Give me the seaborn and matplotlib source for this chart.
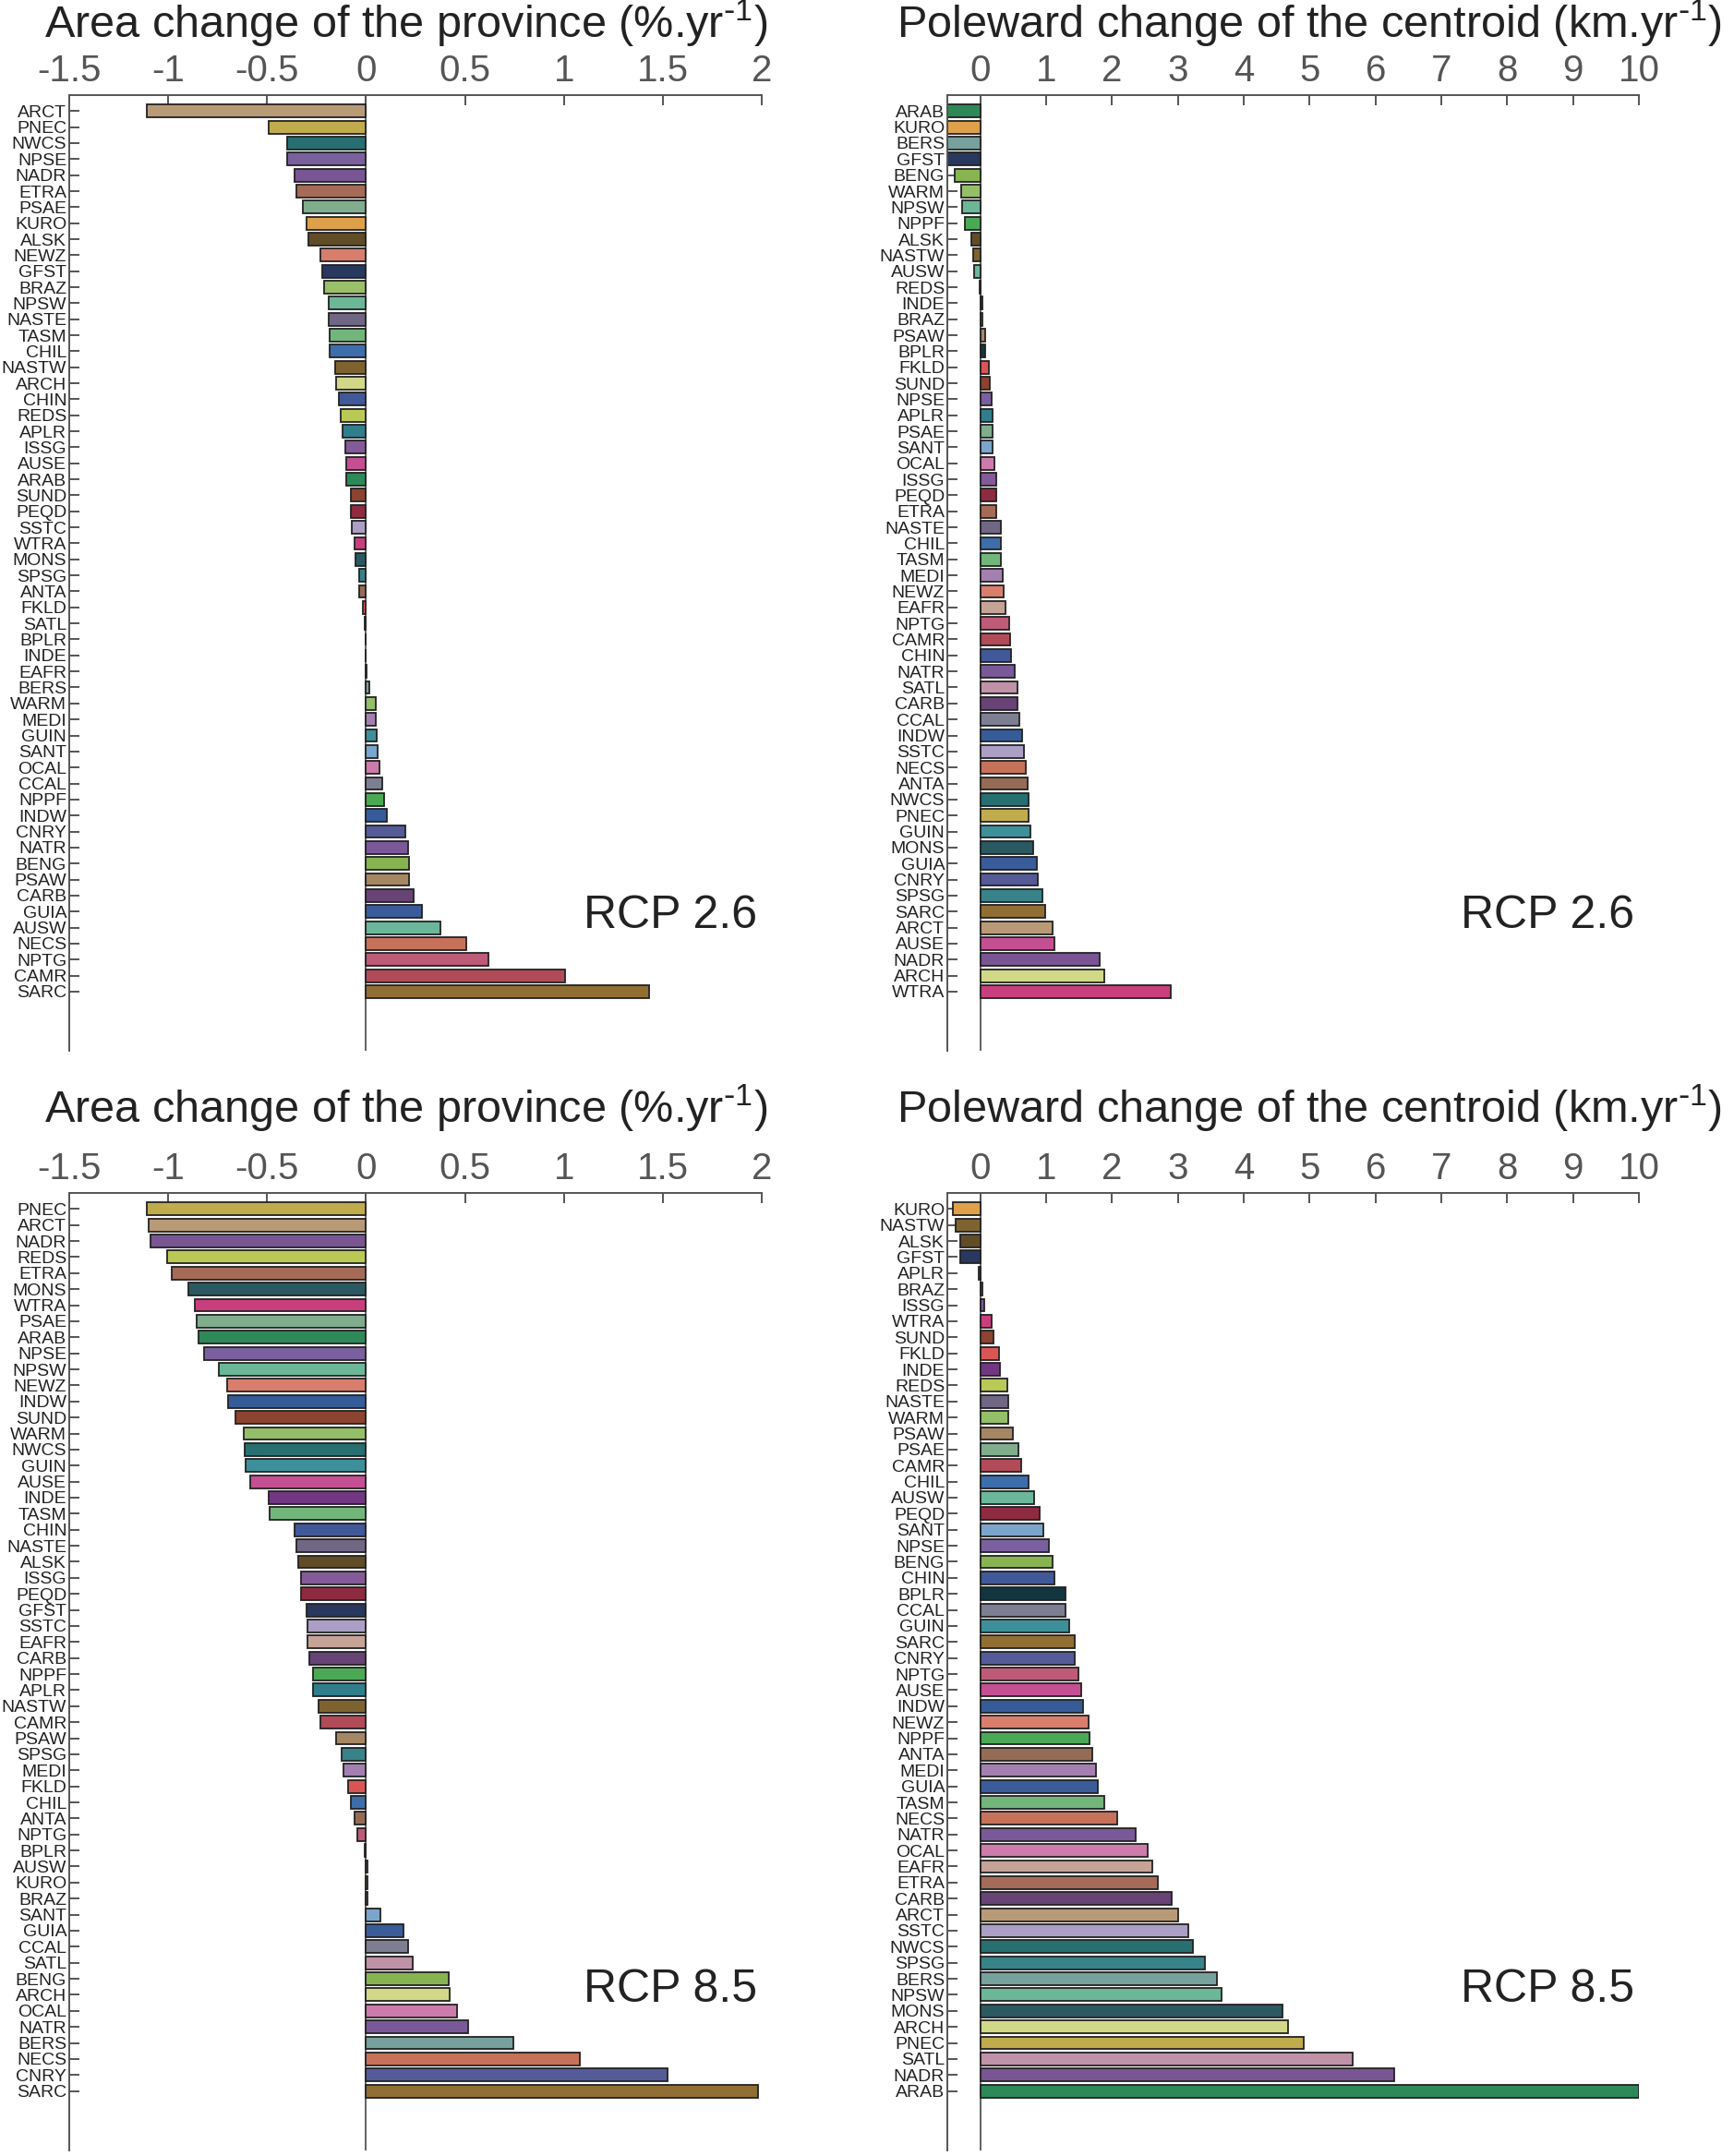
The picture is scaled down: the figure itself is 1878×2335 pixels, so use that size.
import numpy as np
import pandas as pd
import matplotlib
matplotlib.use("Agg")
import matplotlib.pyplot as plt
import seaborn as sns

# ============ DATA ============

# Area change of the province (%.yr-1), RCP 2.6
area26_prov = ["ARCT", "PNEC", "NWCS", "NPSE", "NADR", "ETRA", "PSAE", "KURO", "ALSK", "NEWZ",
               "GFST", "BRAZ", "NPSW", "NASTE", "TASM", "CHIL", "NASTW", "ARCH", "CHIN", "REDS",
               "APLR", "ISSG", "AUSE", "ARAB", "SUND", "PEQD", "SSTC", "WTRA", "MONS", "SPSG",
               "ANTA", "FKLD", "SATL", "BPLR", "INDE", "EAFR", "BERS", "WARM", "MEDI", "GUIN",
               "SANT", "OCAL", "CCAL", "NPPF", "INDW", "CNRY", "NATR", "BENG", "PSAW", "CARB",
               "GUIA", "AUSW", "NECS", "NPTG", "CAMR", "SARC"]
area26_val = [-1.11, -0.49, -0.40, -0.40, -0.36, -0.35, -0.32, -0.30, -0.29, -0.23,
              -0.22, -0.21, -0.19, -0.19, -0.185, -0.185, -0.155, -0.15, -0.137, -0.127,
              -0.119, -0.104, -0.101, -0.101, -0.076, -0.076, -0.073, -0.058, -0.053, -0.035,
              -0.033, -0.018, -0.008, -0.003, -0.001, 0.002, 0.015, 0.048, 0.051, 0.056,
              0.061, 0.066, 0.084, 0.091, 0.104, 0.197, 0.213, 0.218, 0.218, 0.243,
              0.281, 0.377, 0.509, 0.618, 1.005, 1.43]

# Poleward change of the centroid (km.yr-1), RCP 2.6
pole26_prov = ["ARAB", "KURO", "BERS", "GFST", "BENG", "WARM", "NPSW", "NPPF", "ALSK", "NASTW",
               "AUSW", "REDS", "INDE", "BRAZ", "PSAW", "BPLR", "FKLD", "SUND", "NPSE", "APLR",
               "PSAE", "SANT", "OCAL", "ISSG", "PEQD", "ETRA", "NASTE", "CHIL", "TASM", "MEDI",
               "NEWZ", "EAFR", "NPTG", "CAMR", "CHIN", "NATR", "SATL", "CARB", "CCAL", "INDW",
               "SSTC", "NECS", "ANTA", "NWCS", "PNEC", "GUIN", "MONS", "GUIA", "CNRY", "SPSG",
               "SARC", "ARCT", "AUSE", "NADR", "ARCH", "WTRA"]
pole26_val = [-0.5, -0.5, -0.5, -0.5, -0.39, -0.29, -0.27, -0.23, -0.14, -0.10,
              -0.09, -0.01, 0.03, 0.04, 0.08, 0.08, 0.13, 0.14, 0.17, 0.19,
              0.19, 0.19, 0.21, 0.24, 0.25, 0.25, 0.32, 0.32, 0.32, 0.34,
              0.36, 0.38, 0.44, 0.45, 0.47, 0.53, 0.56, 0.57, 0.60, 0.64,
              0.66, 0.69, 0.72, 0.74, 0.74, 0.76, 0.81, 0.86, 0.88, 0.95,
              0.98, 1.10, 1.12, 1.82, 1.88, 2.89]

# Area change of the province (%.yr-1), RCP 8.5
area85_prov = ["PNEC", "ARCT", "NADR", "REDS", "ETRA", "MONS", "WTRA", "PSAE", "ARAB", "NPSE",
               "NPSW", "NEWZ", "INDW", "SUND", "WARM", "NWCS", "GUIN", "AUSE", "INDE", "TASM",
               "CHIN", "NASTE", "ALSK", "ISSG", "PEQD", "GFST", "SSTC", "EAFR", "CARB", "NPPF",
               "APLR", "NASTW", "CAMR", "PSAW", "SPSG", "MEDI", "FKLD", "CHIL", "ANTA", "NPTG",
               "BPLR", "AUSW", "KURO", "BRAZ", "SANT", "GUIA", "CCAL", "SATL", "BENG", "ARCH",
               "OCAL", "NATR", "BERS", "NECS", "CNRY", "SARC"]
area85_val = [-1.106, -1.099, -1.091, -1.005, -0.98, -0.899, -0.866, -0.858, -0.848, -0.82,
              -0.742, -0.704, -0.699, -0.658, -0.618, -0.615, -0.61, -0.585, -0.491, -0.486,
              -0.362, -0.354, -0.344, -0.329, -0.327, -0.299, -0.296, -0.294, -0.286, -0.266,
              -0.266, -0.241, -0.23, -0.152, -0.122, -0.114, -0.091, -0.078, -0.058, -0.046,
              -0.005, 0.008, 0.008, 0.008, 0.073, 0.19, 0.215, 0.238, 0.418, 0.425,
              0.458, 0.516, 0.747, 1.081, 1.524, 1.982]

# Poleward change of the centroid (km.yr-1), RCP 8.5
pole85_prov = ["KURO", "NASTW", "ALSK", "GFST", "APLR", "BRAZ", "ISSG", "WTRA", "SUND", "FKLD",
               "INDE", "REDS", "NASTE", "WARM", "PSAW", "PSAE", "CAMR", "CHIL", "AUSW", "PEQD",
               "SANT", "NPSE", "BENG", "CHIN", "BPLR", "CCAL", "GUIN", "SARC", "CNRY", "NPTG",
               "AUSE", "INDW", "NEWZ", "NPPF", "ANTA", "MEDI", "GUIA", "TASM", "NECS", "NATR",
               "OCAL", "EAFR", "ETRA", "CARB", "ARCT", "SSTC", "NWCS", "SPSG", "BERS", "NPSW",
               "MONS", "ARCH", "PNEC", "SATL", "NADR", "ARAB"]
pole85_val = [-0.42, -0.38, -0.31, -0.31, -0.02, 0.03, 0.06, 0.17, 0.20, 0.28,
              0.30, 0.41, 0.42, 0.43, 0.50, 0.58, 0.62, 0.74, 0.82, 0.90,
              0.96, 1.04, 1.10, 1.13, 1.29, 1.30, 1.35, 1.43, 1.43, 1.49,
              1.54, 1.56, 1.65, 1.66, 1.70, 1.76, 1.78, 1.89, 2.08, 2.36,
              2.54, 2.61, 2.69, 2.90, 3.01, 3.16, 3.23, 3.41, 3.59, 3.66,
              4.59, 4.67, 4.91, 5.65, 6.29, 10.0]

# One colour per province
province_colors = {
    "ARCT": "#C49A6C", "PNEC": "#D4B83A", "NWCS": "#1B7B7C", "NPSE": "#7856A8",
    "NADR": "#7B4A9E", "ETRA": "#B3644A", "PSAE": "#78B48A", "KURO": "#F7A630",
    "ALSK": "#6B4E1E", "NEWZ": "#EB725B", "GFST": "#1F3567", "BRAZ": "#9BCF5A",
    "NPSW": "#5EC49B", "NASTE": "#6E628A", "TASM": "#66C272", "CHIL": "#2A6CBE",
    "NASTW": "#8B6724", "ARCH": "#DCE67A", "CHIN": "#3353A6", "REDS": "#C8DC42",
    "APLR": "#21899A", "ISSG": "#8850A2", "AUSE": "#D83C96", "ARAB": "#1F9858",
    "SUND": "#9B3A20", "PEQD": "#A01A36", "SSTC": "#A898CC", "WTRA": "#E0287C",
    "MONS": "#22606A", "SPSG": "#2A8E96", "ANTA": "#A0674A", "FKLD": "#F04040",
    "SATL": "#C88AA6", "BPLR": "#0A3A48", "INDE": "#7A2A8E", "EAFR": "#CCA090",
    "BERS": "#6FA8A2", "WARM": "#94CC5A", "MEDI": "#A878B8", "GUIN": "#2E9CA8",
    "SANT": "#6FA6D8", "OCAL": "#DA6EAE", "CCAL": "#7A7A96", "NPPF": "#3CB84A",
    "INDW": "#2558A8", "CNRY": "#4A52A4", "NATR": "#7A4EA2", "BENG": "#88C440",
    "PSAW": "#B08858", "CARB": "#6A3A7E", "GUIA": "#2A58AA", "AUSW": "#5EC4A0",
    "NECS": "#D86848", "NPTG": "#CE4A72", "CAMR": "#C23A4A", "SARC": "#A07224",
}

area_title = r"Area change of the province (%.yr$^{\text{-}1}$)"
pole_title = r"Poleward change of the centroid (km.yr$^{\text{-}1}$)"
area_ticks = [-1.5, -1, -0.5, 0, 0.5, 1, 1.5, 2]
pole_ticks = [0, 1, 2, 3, 4, 5, 6, 7, 8, 9, 10]

# ============ STYLE ============

sns.set_theme(style="white")
plt.rcParams["font.family"] = ["Liberation Sans Narrow", "Liberation Sans", "DejaVu Sans"]
plt.rcParams["mathtext.default"] = "regular"
plt.rcParams["axes.unicode_minus"] = False

fig = plt.figure(figsize=(18.78, 23.35), dpi=100)

# rect = [left, bottom, width, height] in figure fractions; title x, title pad, rcp label y
panels = [
    (area26_prov, area26_val, area_title, area_ticks, (-1.5, 2), "RCP 2.6",
     [0.0399, 0.5126, 0.3994, 0.4433], 0.486, 12, 0.141),
    (pole26_prov, pole26_val, pole_title, pole_ticks, (-0.5, 10), "RCP 2.6",
     [0.5463, 0.5126, 0.3989, 0.4433], 0.524, 12, 0.141),
    (area85_prov, area85_val, area_title, area_ticks, (-1.5, 2), "RCP 8.5",
     [0.0399, 0.0026, 0.3994, 0.4441], 0.486, 22, 0.168),
    (pole85_prov, pole85_val, pole_title, pole_ticks, (-0.5, 10), "RCP 8.5",
     [0.5463, 0.0026, 0.3989, 0.4441], 0.524, 22, 0.168),
]

for prov, vals, title, ticks, xlim, rcp, rect, title_x, title_pad, rcp_y in panels:
    ax = fig.add_axes(rect)
    df = pd.DataFrame({"province": prov, "value": vals})
    sns.barplot(data=df, x="value", y="province", hue="province",
                palette=province_colors, legend=False, width=0.8,
                edgecolor="#222222", linewidth=1.3, ax=ax)
    ax.axvline(0, color="#555555", lw=1.3, zorder=0.5)
    ax.set_xlim(*xlim)
    ax.set_ylim(58.7, -1.0)
    ax.set_xticks(ticks)
    ax.set_xticklabels(["%g" % t for t in ticks])
    ax.xaxis.tick_top()
    ax.set_xlabel("")
    ax.set_ylabel("")
    for side in ["right", "bottom"]:
        ax.spines[side].set_visible(False)
    for side in ["left", "top"]:
        ax.spines[side].set_color("#555555")
        ax.spines[side].set_linewidth(1.4)
    ax.tick_params(axis="x", direction="in", length=8, width=1.4, color="#555555",
                   labelsize=29, labelcolor="#555555", pad=5, top=True, bottom=False)
    ax.tick_params(axis="y", direction="in", length=8, width=1.4, color="#555555",
                   labelsize=14, labelcolor="#222222", pad=2, left=True)
    ax.set_title(title, fontsize=35, color="#222222", pad=title_pad, x=title_x)
    ax.text(0.993, rcp_y, rcp, transform=ax.transAxes,
            ha="right", va="center", fontsize=36, color="#222222")

fig.savefig("out.png", dpi=100)
